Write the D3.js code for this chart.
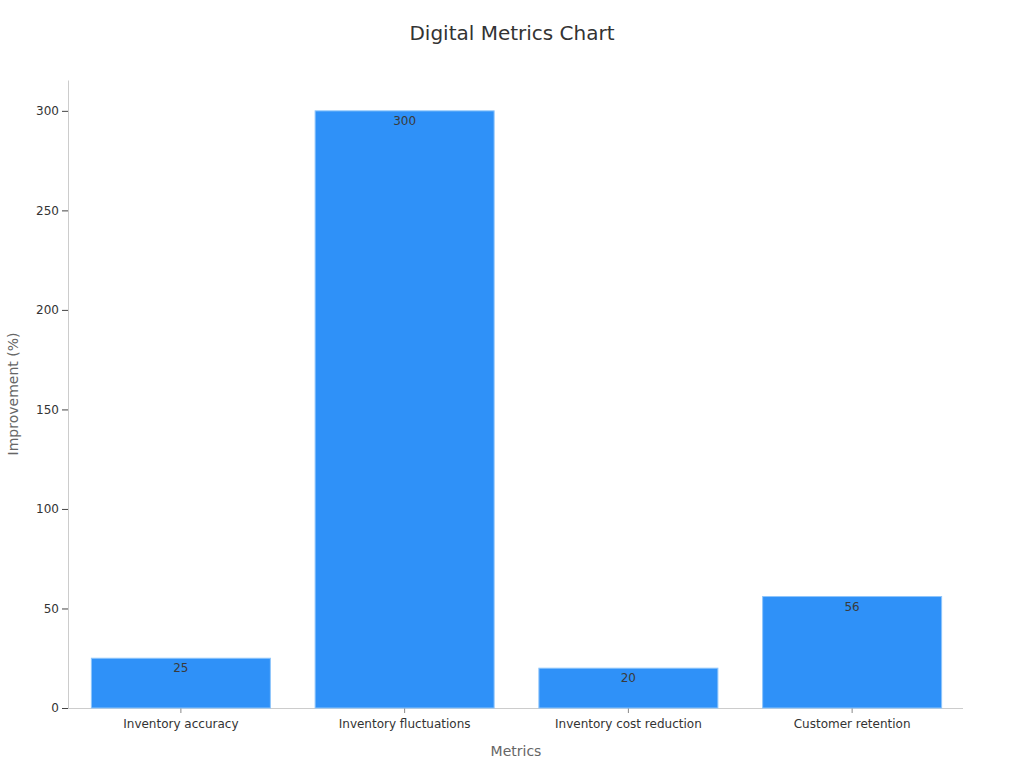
<!DOCTYPE html>
<html><head><meta charset="utf-8">
<script src="https://cdn.jsdelivr.net/npm/d3@7"></script>
<style>body{margin:0;background:#fff;font-family:"DejaVu Sans",sans-serif;}</style>
</head><body><svg id="c" width="1024" height="768"></svg>
<script>
const categories = ["Inventory accuracy","Inventory fluctuations","Inventory cost reduction","Customer retention"];
const values = [25,300,20,56];
const yTicks = [0,50,100,150,200,250,300];
const titleText = "Digital Metrics Chart";
const xLabel = "Metrics";
const yLabel = "Improvement (%)";

const svg = d3.select("#c");
const m = {l:68, r:61, t:80, b:60};
const W = 1024, H = 768;
const x = d3.scaleBand().domain(categories).range([m.l+1, W-m.r+1]).paddingInner(0.2).paddingOuter(0.1);
const y = d3.scaleLinear().domain([0,315.5]).range([H-m.b, m.t]);

svg.append("text").attr("x",512).attr("y",40).attr("text-anchor","middle")
  .attr("font-size",20).attr("fill","#333").text(titleText);

const yA = svg.append("g").attr("transform",`translate(${m.l},0)`)
  .call(d3.axisLeft(y).tickValues(yTicks).tickSize(6).tickSizeOuter(0).tickPadding(3));
yA.select(".domain").attr("stroke","#ccc");
yA.selectAll(".tick line").attr("stroke","#444");
yA.selectAll("text").attr("font-size",12).attr("fill","#333").attr("font-family","DejaVu Sans");

const xA = svg.append("g").attr("transform",`translate(0,${H-m.b})`)
  .call(d3.axisBottom(x).tickSize(5).tickSizeOuter(0).tickPadding(6));
xA.select(".domain").attr("stroke","#ccc").attr("d",`M${m.l},0.5H${W-m.r}`);
xA.selectAll(".tick line").attr("stroke","#888");
xA.selectAll("text").attr("font-size",12).attr("fill","#333").attr("font-family","DejaVu Sans");

svg.selectAll("rect.bar").data(values).enter().append("rect").attr("class","bar")
  .attr("x",(d,i)=>x(categories[i])).attr("width",x.bandwidth())
  .attr("y",d=>y(d)).attr("height",d=>y(0)-y(d))
  .attr("fill","#2f91f8").attr("stroke","#8ec5fb").attr("stroke-width",1);

svg.selectAll("text.lab").data(values).enter().append("text").attr("class","lab")
  .attr("x",(d,i)=>x(categories[i])+x.bandwidth()/2).attr("y",d=>y(d)+14)
  .attr("text-anchor","middle").attr("font-size",12).attr("fill","#3a3a3a").text(d=>d);

svg.append("text").attr("x",516).attr("y",756).attr("text-anchor","middle")
  .attr("font-size",14).attr("fill","#666").text(xLabel);
svg.append("text").attr("transform","translate(18,394) rotate(-90)").attr("text-anchor","middle")
  .attr("font-size",14).attr("fill","#666").text(yLabel);
</script></body></html>
